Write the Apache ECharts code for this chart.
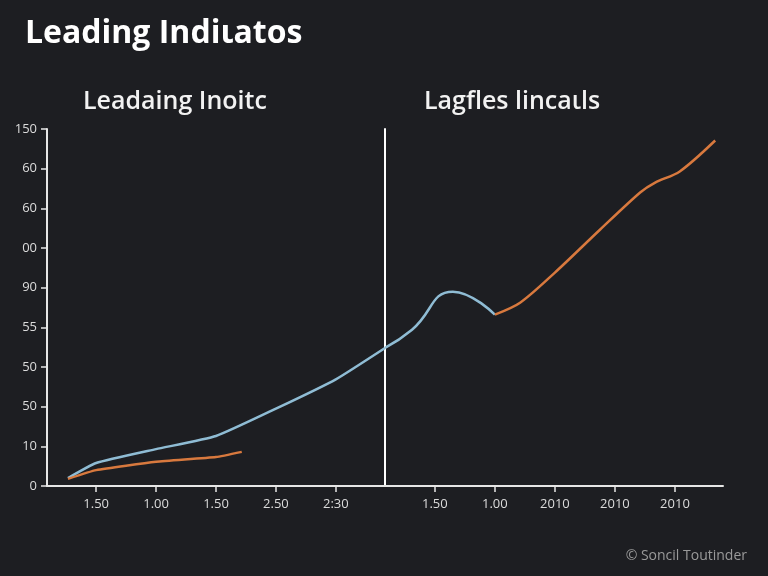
<!DOCTYPE html>
<html>
<head>
<meta charset="utf-8">
<script src="https://cdn.jsdelivr.net/npm/echarts@6/dist/echarts.min.js"></script>
<style>
    html, body { margin: 0; padding: 0; background: #1d1e22; }
    .chart1 { width: 768px; height: 576px; }
</style>
</head>
<body>
<div class="chart1"></div>
<script>
// y tick labels as printed, bottom to top (0..90 in steps of 10)
var yTickLabels = ['0', '10', '50', '50', '55', '90', '00', '60', '60', '150'];
var leftXLabels = ['1.50', '1.00', '1.50', '2.50', '2:30'];
var rightXLabels = ['1.50', '1.00', '2010', '2010', '2010'];
var xTicks = [0, 1, 2, 3, 4];

// [x, y] pairs
var blueLeft = [[-0.47, 2.0], [0, 5.8], [1, 9.3], [2, 12.6], [3, 19.5], [4, 26.9], [4.82, 34.8]];
var orangeLeft = [[-0.47, 1.8], [0, 4.0], [1, 6.1], [2, 7.3], [2.43, 8.6]];
var blueRight = [[-0.83, 34.8], [-0.38, 39.4], [0.3, 49.0], [1.0, 43.2]];
var orangeRight = [[1.0, 43.2], [1.42, 46.2], [2.0, 53.8], [2.75, 64.6], [3.42, 74.0], [3.67, 76.5], [4.08, 79.3], [4.67, 87.1]];

var myChart1;
function initChart1() {
    var chartDom = document.querySelector('.chart1');
    myChart1 = echarts.init(chartDom);
    var option;

    var font = 'Open Sans';
    var axisColor = '#e6e6e6';
    var labelStyle = { color: '#dcdcdc', fontSize: 13, fontFamily: font };

    function xAxisFor(idx, min, max, labels) {
        return {
            gridIndex: idx,
            type: 'value',
            min: min,
            max: max,
            axisLine: { show: true, onZero: false, lineStyle: { color: axisColor, width: 2 } },
            axisTick: { show: true, customValues: xTicks, length: 6, lineStyle: { color: axisColor, width: 1.5 } },
            axisLabel: Object.assign({
                customValues: xTicks,
                margin: 12,
                formatter: function (value) {
                    return labels[Math.round(value)];
                }
            }, labelStyle),
            splitLine: { show: false }
        };
    }

    option = {
        backgroundColor: '#1d1e22',
        title: [
            {
                text: 'Leading Indiιatos',
                left: 20, top: 13,
                textStyle: { color: '#ffffff', fontSize: 32, fontWeight: 'bold', fontFamily: font }
            },
            {
                text: 'Leadaing Inoitc',
                left: 78, top: 84,
                textStyle: { color: '#f2f2f2', fontSize: 25, fontWeight: 600, fontFamily: font }
            },
            {
                text: 'Lagfles lincaιls',
                left: 419, top: 84,
                textStyle: { color: '#f2f2f2', fontSize: 25, fontWeight: 600, fontFamily: font }
            },
            {
                text: '© Soncil Toutinder',
                right: 16, bottom: 8,
                textStyle: { color: '#9a9a9a', fontSize: 14, fontWeight: 'normal', fontFamily: font }
            }
        ],
        grid: [
            { left: 47, top: 129, width: 338, height: 357 },
            { left: 385, top: 129, width: 338, height: 357 }
        ],
        xAxis: [
            xAxisFor(0, -0.82, 4.82, leftXLabels),
            xAxisFor(1, -0.83, 4.8, rightXLabels)
        ],
        yAxis: [
            {
                gridIndex: 0,
                type: 'value',
                min: 0,
                max: 90,
                interval: 10,
                axisLine: { show: true, onZero: false, lineStyle: { color: axisColor, width: 2 } },
                axisTick: { show: true, length: 6, lineStyle: { color: axisColor, width: 1.5 } },
                axisLabel: Object.assign({
                    margin: 10,
                    formatter: function (value) {
                        return yTickLabels[Math.round(value / 10)];
                    }
                }, labelStyle),
                splitLine: { show: false }
            },
            {
                gridIndex: 1,
                type: 'value',
                min: 0,
                max: 90,
                interval: 10,
                axisLine: { show: true, onZero: false, lineStyle: { color: '#ffffff', width: 2 } },
                axisTick: { show: false },
                axisLabel: { show: false },
                splitLine: { show: false }
            }
        ],
        series: [
            {
                name: 'blueLeft', type: 'line', xAxisIndex: 0, yAxisIndex: 0,
                data: blueLeft, showSymbol: false, smooth: 0.15,
                lineStyle: { color: '#8fbcd4', width: 2.5 }
            },
            {
                name: 'orangeLeft', type: 'line', xAxisIndex: 0, yAxisIndex: 0,
                data: orangeLeft, showSymbol: false, smooth: 0.15,
                lineStyle: { color: '#d8793e', width: 2.5 }
            },
            {
                name: 'blueRight', type: 'line', xAxisIndex: 1, yAxisIndex: 1,
                data: blueRight, showSymbol: false, smooth: 0.5,
                lineStyle: { color: '#8fbcd4', width: 2.5 }
            },
            {
                name: 'orangeRight', type: 'line', xAxisIndex: 1, yAxisIndex: 1,
                data: orangeRight, showSymbol: false, smooth: 0.3,
                lineStyle: { color: '#d8793e', width: 2.5 }
            }
        ]
    };

    option && myChart1.setOption(option);
}

document.addEventListener("DOMContentLoaded", function () {
    initChart1();
});

window.addEventListener('resize', () => {
    myChart1.resize();
});
</script>
</body>
</html>
